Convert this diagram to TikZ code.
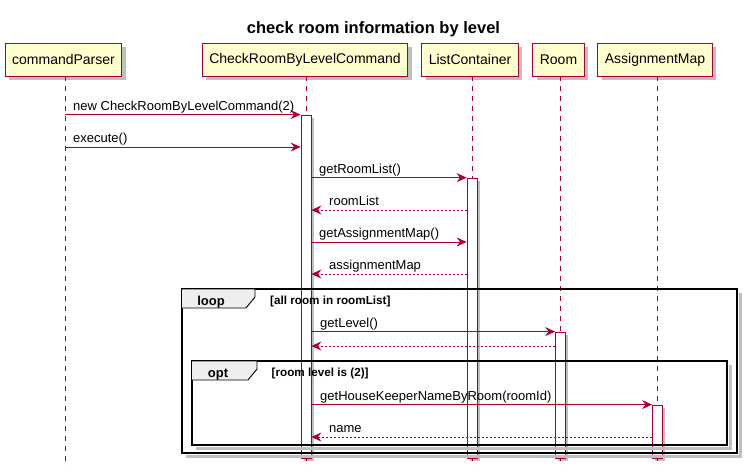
\documentclass[tikz,border=0pt]{standalone}
\usepackage{fontspec}
\setmainfont{Liberation Sans}
\usetikzlibrary{arrows.meta,shadows}
\definecolor{pborder}{HTML}{A80036}
\definecolor{pfill}{HTML}{FEFECE}
\definecolor{tabfill}{HTML}{EEEEEE}
\tikzset{
  part/.style={draw=pborder, fill=pfill, line width=1pt, minimum height=33pt, inner xsep=7pt, inner ysep=0pt,
    font=\fontsize{14}{16}\selectfont, drop shadow={shadow xshift=4pt, shadow yshift=-4pt, fill=black, opacity=0.25}},
  life/.style={draw=pborder, line width=0.8pt, dash pattern=on 5pt off 5pt},
  actbox/.style={draw=pborder, fill=white, line width=0.8pt, minimum width=10pt, inner sep=0pt,
    drop shadow={shadow xshift=2.5pt, shadow yshift=-2.5pt, fill=black, opacity=0.25}},
  msg/.style={draw=pborder, line width=0.8pt, -{Stealth[length=10pt,width=9pt,inset=3.5pt]}},
  ret/.style={msg, dash pattern=on 2pt off 2pt},
  lbl/.style={anchor=base west, inner sep=0pt, font=\fontsize{13}{15}\selectfont},
  frame/.style={draw=black, line width=1.6pt},
  fshadow/.style={draw=black!25, line width=2.5pt},
  tabshape/.style={draw=black, fill=tabfill, line width=0.9pt},
  tabtxt/.style={anchor=base, inner sep=0pt, font=\fontsize{13}{15}\selectfont\bfseries},
  cond/.style={anchor=base west, inner sep=0pt, font=\fontsize{11.7}{13}\selectfont\bfseries}
}
\begin{document}
\begin{tikzpicture}[x=1pt,y=-1pt]
\useasboundingbox (0,0) rectangle (749,475);
% title
\node[anchor=base, inner sep=0pt, font=\fontsize{16.5}{19}\selectfont\bfseries] (title) at (373.5,33) {check room information by level};
% participants
\node[part] (pA) at (63.5,59.5) {commandParser};
\node[part] (pB) at (305,59.5) {CheckRoomByLevelCommand};
\node[part] (pC) at (470,59.5) {ListContainer};
\node[part] (pD) at (558.5,59.5) {Room};
\node[part] (pE) at (655,59.5) {AssignmentMap};
% lifelines
\coordinate (lA) at (65,76);  \coordinate (lAe) at (65,466);
\coordinate (lB) at (306,76); \coordinate (lBe) at (306,466);
\coordinate (lC) at (472,76); \coordinate (lCe) at (472,466);
\coordinate (lD) at (560,76); \coordinate (lDe) at (560,466);
\coordinate (lE) at (657,76); \coordinate (lEe) at (657,466);
\foreach \a/\b in {lA/lAe,lB/lBe,lC/lCe,lD/lDe,lE/lEe} \draw[life] (\a) -- (\b);
% activations
\node[actbox, minimum height=343pt] (aB) at (306,286.5) {};
\node[actbox, minimum height=280pt] (aC) at (472,318) {};
\node[actbox, minimum height=126pt] (aD) at (560.5,395) {};
\node[actbox, minimum height=53pt] (aE) at (657.5,431.5) {};
% frames
\draw[fshadow] (740.5,293) -- (740.5,456.5) -- (186,456.5);
\draw[frame] (182,289) rectangle (737,453);
\draw[tabshape] (182,289) -- (255,289) -- (255,297) -- (246,308) -- (182,308);
\node[tabtxt] (tloop) at (211,305) {loop};
\node[cond] (cloop) at (270,304) {[all room in roomList]};
\draw[fshadow] (730.5,365) -- (730.5,448.5) -- (196,448.5);
\draw[frame] (192,361) rectangle (727,445);
\draw[tabshape] (192,361) -- (257,361) -- (257,369) -- (248,380) -- (192,380);
\node[tabtxt] (topt) at (218,377) {opt};
\node[cond] (copt) at (271.5,376) {[room level is (2)]};
% messages
\draw[msg] (lA |- aB.north) -- (aB.north west);
\node[lbl] (m1) at (73,110.5) {new CheckRoomByLevelCommand(2)};
\coordinate (y2) at (0,147);
\draw[msg] (lA |- y2) -- (aB.west |- y2);
\node[lbl] (m2) at (73,142.5) {execute()};
\draw[msg] (aB.east |- aC.north) -- (aC.north west);
\node[lbl] (m3) at (319,173.5) {getRoomList()};
\coordinate (y4) at (0,210);
\draw[ret] (aC.west |- y4) -- (aB.east |- y4);
\node[lbl] (m4) at (329,205.5) {roomList};
\coordinate (y5) at (0,242);
\draw[msg] (aB.east |- y5) -- (aC.west |- y5);
\node[lbl] (m5) at (319,237.5) {getAssignmentMap()};
\coordinate (y6) at (0,274);
\draw[ret] (aC.west |- y6) -- (aB.east |- y6);
\node[lbl] (m6) at (329,269.5) {assignmentMap};
\draw[msg] (aB.east |- aD.north) -- (aD.north west);
\node[lbl] (m7) at (320,327.5) {getLevel()};
\coordinate (y8) at (0,346);
\draw[ret] (aD.west |- y8) -- (aB.east |- y8);
\draw[msg] (aB.east |- aE.north) -- (aE.north west);
\node[lbl] (m9) at (320,400.5) {getHouseKeeperNameByRoom(roomId)};
\coordinate (y10) at (0,437);
\draw[ret] (aE.west |- y10) -- (aB.east |- y10);
\node[lbl] (m10) at (329,432.5) {name};
\end{tikzpicture}
\end{document}
